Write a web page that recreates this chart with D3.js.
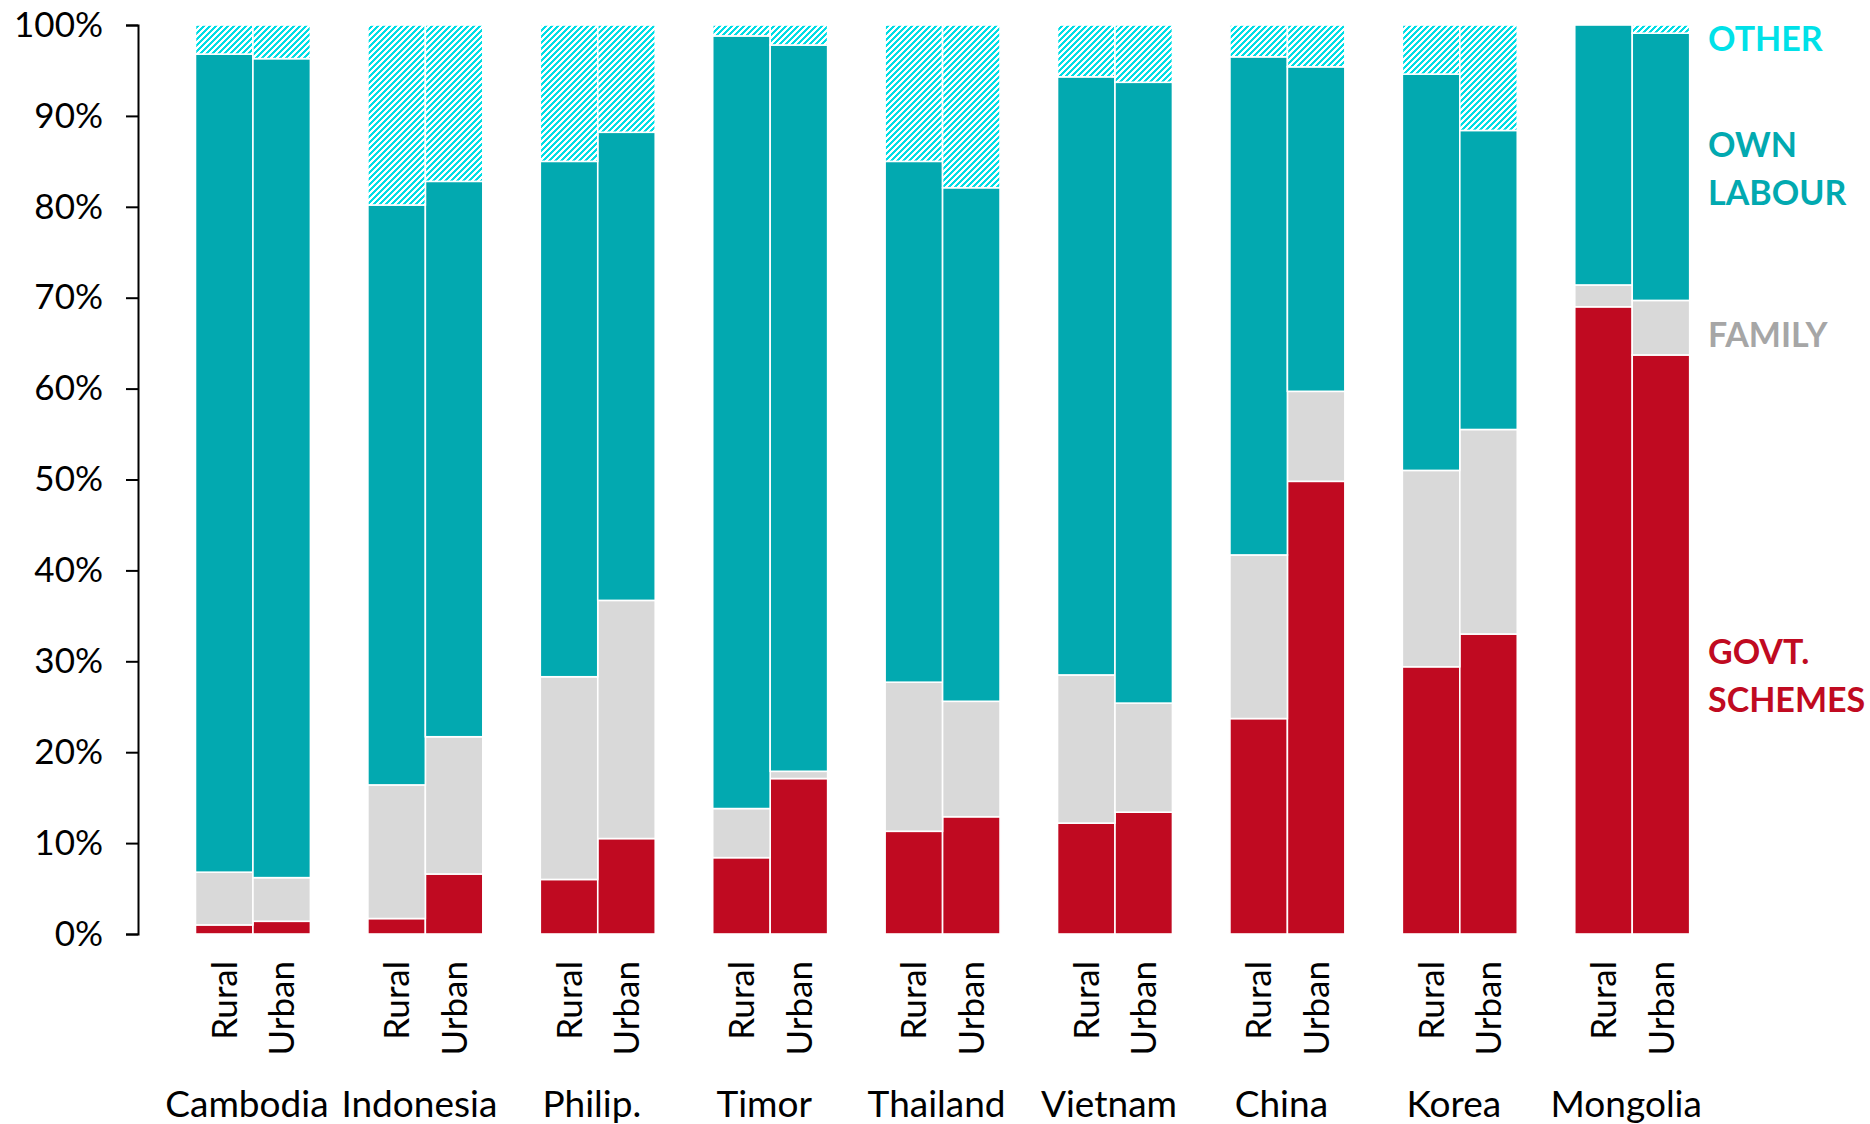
<!DOCTYPE html>
<html>
<head>
<meta charset="utf-8">
<script src="https://cdn.jsdelivr.net/npm/d3@7"></script>
<style>
  html, body { margin: 0; padding: 0; background: #fff; }
  svg { display: block; font-family: Lato, "Open Sans", sans-serif; }
</style>
</head>
<body>
<svg id="chart" width="1870" height="1124"></svg>
<script>
// Sources of help, share of respondents (%), rural and urban per country
const countries = ["Cambodia", "Indonesia", "Philip.", "Timor", "Thailand", "Vietnam", "China", "Korea", "Mongolia"];
const areas = ["Rural", "Urban"];
// values listed country by country: Rural, Urban
const govtSchemes = [1.0, 1.4, 1.7, 6.6, 6.0, 10.5, 8.4, 17.1, 11.3, 12.9, 12.2, 13.4, 23.7, 49.8, 29.4, 33.0, 69.0, 63.7];
const family      = [5.8, 4.8, 14.7, 15.1, 22.3, 26.2, 5.4, 0.8, 16.4, 12.7, 16.3, 12.0, 18.0, 9.9, 21.6, 22.5, 2.4, 6.0];
const ownLabour   = [90.0, 90.1, 63.8, 61.1, 56.7, 51.5, 85.0, 79.9, 57.3, 56.5, 65.8, 68.3, 54.8, 35.7, 43.6, 32.9, 28.6, 29.4];
const other       = [3.2, 3.7, 19.8, 17.2, 15.0, 11.8, 1.2, 2.2, 15.0, 17.9, 5.7, 6.3, 3.5, 4.6, 5.4, 11.6, 0.0, 0.9];
const yTicks = [0, 10, 20, 30, 40, 50, 60, 70, 80, 90, 100];

const seriesKeys = ["govt", "family", "own", "other"];
const legendLabels = {
  other: ["OTHER"],
  own: ["OWN", "LABOUR"],
  family: ["FAMILY"],
  govt: ["GOVT.", "SCHEMES"]
};

const rows = [];
countries.forEach((c, i) => {
  areas.forEach((a, j) => {
    const k = i * 2 + j;
    rows.push({ country: c, area: a, govt: govtSchemes[k], family: family[k], own: ownLabour[k], other: other[k] });
  });
});

const svg = d3.select("#chart");
const plotLeft = 138, plotTop = 25, plotBottom = 934;
const slot = 57.47;

// each country takes three slots: an empty one, then Rural and Urban
const x0 = d3.scaleBand().domain(countries).range([plotLeft, plotLeft + slot * 27]).padding(0);
const x1 = d3.scaleBand().domain(areas).range([slot, slot * 3]).padding(0);
const y = d3.scaleLinear().domain([0, 100]).range([plotBottom, plotTop]);

const colors = { govt: "#C00A21", family: "#D9D9D9", own: "#02A9B0" };

// upward diagonal hatching for the "other" share: a 6x6 pixel staircase
const defs = svg.append("defs");
const pat = defs.append("pattern")
  .attr("id", "hatch").attr("patternUnits", "userSpaceOnUse")
  .attr("width", 6).attr("height", 6);
pat.append("rect").attr("width", 6).attr("height", 6).attr("fill", "#fff");
const cells = [];
for (let r = 0; r < 6; r++) {
  for (let k = 0; k < 3; k++) cells.push({ r, c: (6 - r + k) % 6 });
}
pat.selectAll("rect.px").data(cells).join("rect")
  .attr("class", "px")
  .attr("x", d => d.c).attr("y", d => d.r)
  .attr("width", 1).attr("height", 1)
  .attr("fill", "#00DDE5")
  .attr("shape-rendering", "crispEdges");

const stack = d3.stack().keys(seriesKeys);
const layers = stack(rows);

svg.append("g").selectAll("g")
  .data(layers)
  .join("g")
  .attr("fill", d => d.key === "other" ? "url(#hatch)" : colors[d.key])
  .selectAll("rect")
  .data(d => d)
  .join("rect")
  .attr("x", d => x0(d.data.country) + x1(d.data.area))
  .attr("width", x1.bandwidth())
  .attr("y", d => y(d[1]))
  .attr("height", d => Math.max(0, y(d[0]) - y(d[1])))
  .attr("stroke", "#fff")
  .attr("stroke-width", 1.6);

// y axis
const yAxis = d3.axisLeft(y)
  .tickValues(yTicks)
  .tickFormat(d => d + "%")
  .tickSize(12)
  .tickPadding(23);
const gy = svg.append("g").attr("transform", `translate(${plotLeft},0)`).call(yAxis);
gy.select(".domain").attr("stroke", "#000").attr("stroke-width", 2);
gy.selectAll(".tick line").attr("stroke", "#000").attr("stroke-width", 2);
gy.selectAll(".tick text")
  .attr("fill", "#000")
  .style("font-size", "35px")
  .style("font-family", "Lato, sans-serif");

// Rural / Urban labels, reading upward under each bar
const sub = svg.append("g");
rows.forEach(r => {
  const cx = x0(r.country) + x1(r.area) + x1.bandwidth() / 2;
  sub.append("text")
    .attr("transform", `translate(${cx},961) rotate(-90)`)
    .attr("text-anchor", "end")
    .attr("dy", "0.36em")
    .style("font-size", "35px")
    .attr("fill", "#000")
    .text(r.area);
});

// country names centred under each pair
svg.append("g").selectAll("text")
  .data(countries)
  .join("text")
  .attr("x", d => x0(d) + x1.range()[0] + x1.bandwidth() - 6)
  .attr("y", 1117)
  .attr("text-anchor", "middle")
  .style("font-size", "37px")
  .attr("fill", "#000")
  .text(d => d);

// series labels at the right edge
const legendColors = { other: "#00E1E8", own: "#02A9B0", family: "#A6A6A6", govt: "#C00A21" };
const legendBaselines = { other: 51, own: 157, family: 347, govt: 664 };
const lg = svg.append("g").style("font-weight", "bold").style("font-size", "34px");
seriesKeys.forEach(k => {
  legendLabels[k].forEach((line, i) => {
    lg.append("text")
      .attr("x", 1708)
      .attr("y", legendBaselines[k] + i * 48)
      .attr("fill", legendColors[k])
      .text(line);
  });
});
</script>
</body>
</html>
